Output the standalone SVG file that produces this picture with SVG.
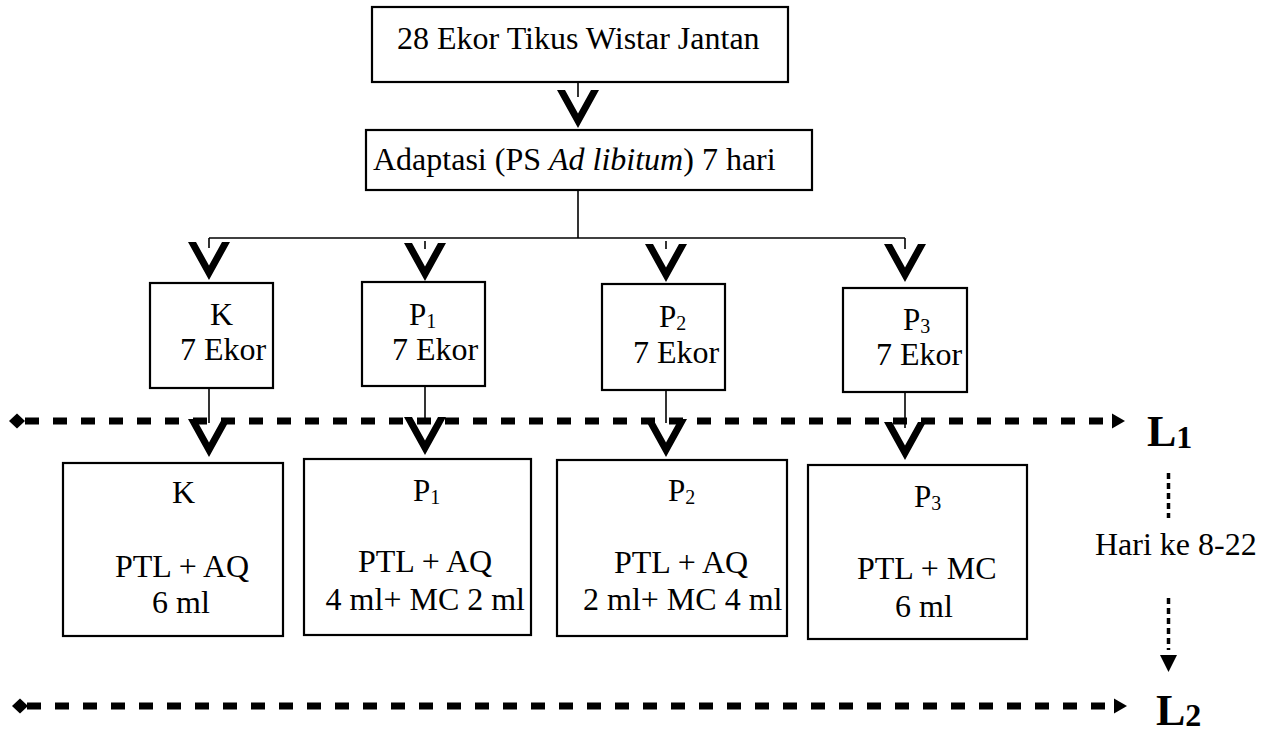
<svg xmlns="http://www.w3.org/2000/svg" xmlns:xlink="http://www.w3.org/1999/xlink" width="1271" height="737" viewBox="0 0 1271 737">
<defs>
<style>
.box{fill:#fff;stroke:#000;stroke-width:2.2}
.t{font-size:32px;fill:#000}
.p{font-size:31px}
.sub{font-size:20px}
.ln{stroke:#000;stroke-width:1.6;fill:none}
.dash{stroke:#000;stroke-width:7;stroke-dasharray:14 14;fill:none}
.dot{stroke:#000;stroke-width:3.5;stroke-dasharray:6 4;fill:none}
.L{font-weight:bold;font-size:44px}
.Ls{font-weight:bold;font-size:32px}
</style>
<path id="chev" d="M-21,-38 L-13,-38 L0,-14.5 L13,-38 L21,-38 L0,0 Z" fill="#000"/>
<path id="dia" d="M-8,0 L0,-7.5 L8,0 L0,7.5 Z" fill="#000"/>
<path id="tri" d="M0,-7.5 L13,0 L0,7.5 Z" fill="#000"/>
</defs>
<rect width="1271" height="737" fill="#fff"/>

<g id="connectors">
  <line class="ln" x1="578" y1="83" x2="578" y2="97"/>
  <line class="ln" x1="578" y1="190" x2="578" y2="238"/>
  <line class="ln" x1="209" y1="238" x2="905" y2="238"/>
  <line class="ln" x1="209" y1="238" x2="209" y2="248"/>
  <line class="ln" x1="425" y1="241" x2="425" y2="249"/>
  <line class="ln" x1="666" y1="241" x2="666" y2="249"/>
  <line class="ln" x1="905" y1="238" x2="905" y2="249"/>
  <line class="dash" x1="25" y1="421" x2="1103" y2="421"/>
  <line class="dash" x1="27" y1="706" x2="1105" y2="706"/>
  <use xlink:href="#dia" x="17" y="421"/>
  <use xlink:href="#dia" x="20" y="706"/>
  <use xlink:href="#tri" x="1112" y="421"/>
  <use xlink:href="#tri" x="1114" y="706"/>
  <line class="ln" x1="209" y1="388" x2="209" y2="423"/>
  <line class="ln" x1="425" y1="386" x2="425" y2="418"/>
  <line class="ln" x1="666" y1="390" x2="666" y2="423"/>
  <line class="ln" x1="905" y1="392" x2="905" y2="428"/>
  <use xlink:href="#chev" x="578" y="128"/>
  <use xlink:href="#chev" x="209" y="280"/>
  <use xlink:href="#chev" x="425" y="281"/>
  <use xlink:href="#chev" x="666" y="282"/>
  <use xlink:href="#chev" x="905" y="282"/>
  <use xlink:href="#chev" x="209" y="457"/>
  <use xlink:href="#chev" x="425" y="455"/>
  <use xlink:href="#chev" x="666" y="457"/>
  <use xlink:href="#chev" x="905" y="460"/>
  <line class="dot" x1="1168.5" y1="473" x2="1168.5" y2="518"/>
  <line class="dot" x1="1168.5" y1="598" x2="1168.5" y2="650"/>
  <path d="M1160,655 L1177,655 L1168.5,672 Z" fill="#000"/>
</g>

<g font-family="Liberation Serif, Times New Roman, serif">
<g id="node-top">
  <rect class="box" x="372" y="7" width="416" height="75"/>
  <text class="t" x="397" y="49">28 Ekor Tikus Wistar Jantan</text>
</g>
<g id="node-adaptasi">
  <rect class="box" x="366" y="130" width="446" height="60"/>
  <text class="t" x="373" y="170">Adaptasi (PS <tspan font-style="italic">Ad libitum</tspan>) 7 hari</text>
</g>

<g id="node-k">
  <rect class="box" x="150" y="283" width="123" height="105"/>
  <text class="t" x="210" y="325">K</text>
  <text class="t" x="180" y="360">7 Ekor</text>
</g>
<g id="node-p1">
  <rect class="box" x="362" y="282" width="123" height="104"/>
  <text class="t p" x="409" y="325">P<tspan class="sub" dy="3">1</tspan></text>
  <text class="t" x="392" y="360">7 Ekor</text>
</g>
<g id="node-p2">
  <rect class="box" x="602" y="284" width="123" height="106"/>
  <text class="t p" x="659" y="327">P<tspan class="sub" dy="3">2</tspan></text>
  <text class="t" x="633" y="363">7 Ekor</text>
</g>
<g id="node-p3">
  <rect class="box" x="843" y="288" width="124" height="104"/>
  <text class="t p" x="903" y="330">P<tspan class="sub" dy="3">3</tspan></text>
  <text class="t" x="876" y="365">7 Ekor</text>
</g>

<g id="node-k-treat">
  <rect class="box" x="63" y="463" width="220" height="173"/>
  <text class="t" x="172" y="503">K</text>
  <text class="t" x="115" y="577">PTL + AQ</text>
  <text class="t" x="152" y="613">6 ml</text>
</g>
<g id="node-p1-treat">
  <rect class="box" x="304" y="459" width="227" height="176"/>
  <text class="t p" x="413" y="501">P<tspan class="sub" dy="3">1</tspan></text>
  <text class="t" x="358" y="572">PTL + AQ</text>
  <text class="t" x="525" y="610" text-anchor="end">4 ml+ MC 2 ml</text>
</g>
<g id="node-p2-treat">
  <rect class="box" x="557" y="460" width="230" height="176"/>
  <text class="t p" x="668" y="501">P<tspan class="sub" dy="3">2</tspan></text>
  <text class="t" x="614" y="573">PTL + AQ</text>
  <text class="t" x="583" y="610">2 ml+ MC 4 ml</text>
</g>
<g id="node-p3-treat">
  <rect class="box" x="808" y="465" width="219" height="174"/>
  <text class="t p" x="914" y="507">P<tspan class="sub" dy="3">3</tspan></text>
  <text class="t" x="857" y="579">PTL + MC</text>
  <text class="t" x="895" y="617">6 ml</text>
</g>

<g id="label-l1">
  <text class="t L" x="1147" y="446">L<tspan class="Ls" dy="2">1</tspan></text>
</g>
<g id="label-hari">
  <text class="t" x="1095" y="555" font-size="33">Hari ke 8-22</text>
</g>
<g id="label-l2">
  <text class="t L" x="1156" y="725">L<tspan class="Ls" dy="1">2</tspan></text>
</g>
</g>
</svg>
